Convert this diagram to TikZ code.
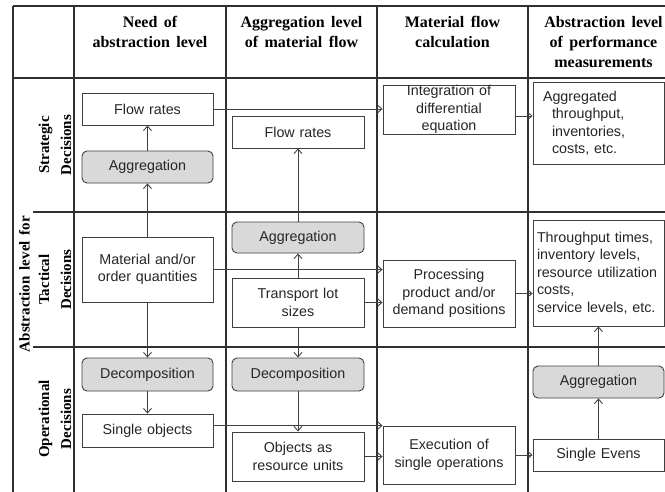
\documentclass[tikz,border=0pt]{standalone}
\usepackage{fontspec}
\setmainfont{Liberation Serif}
\newfontfamily\boxsans{Liberation Sans}
\newfontfamily\hdrserif[WordSpace=1.6]{Liberation Serif}
\usetikzlibrary{arrows.meta}
\definecolor{gridline}{HTML}{303030}
\definecolor{boxline}{HTML}{404040}
\definecolor{boxfill}{HTML}{D9D9D9}
\definecolor{boxtext}{HTML}{262626}

\begin{document}
\begin{tikzpicture}[x=1pt,y=-1pt,
  grid/.style={draw=gridline, line width=1.2pt},
  plain/.style={draw=boxline, line width=0.9pt, fill=white, inner xsep=3pt,
    inner ysep=0pt, align=center, text width=124pt, text=boxtext,
    font={\boxsans\fontsize{14.3}{17.5}\selectfont}},
  procbox/.style={plain, fill=boxfill, rounded corners=5pt},
  leftbox/.style={plain, align=left},
  hdr/.style={font={\hdrserif\bfseries\fontsize{16}{20}\selectfont}, align=center,
    anchor=north, inner sep=0pt, text=black},
  side/.style={font={\hdrserif\bfseries\fontsize{15}{22}\selectfont}, align=center,
    rotate=90, inner sep=0pt, text=black},
  arr/.style={draw=boxline, line width=0.9pt,
    -{Straight Barb[length=4.5pt,width=8pt]}}
]
\useasboundingbox (0,0) rectangle (665,491);
\fill[white] (0,0) rectangle (665,491);
\clip (0,0) rectangle (665,491);

% table grid
\draw[grid] (13,6) -- (680,6);
\draw[grid] (13,78) -- (680,78);
\draw[grid] (33,212) -- (680,212);
\draw[grid] (33,347) -- (680,347);
\foreach \gx in {13,74,226,377,528}
  \draw[grid] (\gx,6) -- (\gx,500);

% column headers
\node[hdr] (h1) at (150,16) {Need of\\abstraction level};
\node[hdr] (h2) at (301.5,16) {Aggregation level\\of material flow};
\node[hdr] (h3) at (452.5,16) {Material flow\\calculation};
\node[hdr] (h4) at (603.5,16) {Abstraction level\\of performance\\measurements};

% row labels
\node[side] (lab) at (24.5,284) {Abstraction level for};
\node[side] (s1) at (55,145) {Strategic\\Decisions};
\node[side] (s2) at (55,279.5) {Tactical\\Decisions};
\node[side] (s3) at (55,419) {Operational\\Decisions};

% column 1: need of abstraction level
\node[plain, minimum width=131pt, minimum height=32pt] (flowA) at (147.5,109) {Flow rates};
\node[procbox, minimum width=131pt, minimum height=32pt] (agg1) at (147.5,167) {Aggregation};
\node[plain, minimum width=131pt, minimum height=65pt] (mat) at (147.5,269.5) {Material and/or\\order quantities};
\node[procbox, minimum width=131pt, minimum height=33pt] (dec1) at (147.5,374.5) {Decomposition};
\node[plain, minimum width=131pt, minimum height=33pt] (single) at (147.5,430.5) {Single objects};

% column 2: aggregation level of material flow
\node[plain, minimum width=132pt, minimum height=32pt] (flowB) at (298,132) {Flow rates};
\node[procbox, minimum width=132pt, minimum height=31pt] (agg2) at (298,237.5) {Aggregation};
\node[plain, minimum width=132pt, minimum height=49pt] (trans) at (298,302.5) {Transport lot\\sizes};
\node[procbox, minimum width=132pt, minimum height=33pt] (dec2) at (298,374.5) {Decomposition};
\node[plain, minimum width=132pt, minimum height=49pt] (obj) at (298,456.5) {Objects as\\resource units};

% column 3: material flow calculation
\node[plain, minimum width=132pt, minimum height=49pt] (integ) at (449,109.5) {Integration of\\differential\\equation};
\node[plain, minimum width=132pt, minimum height=67pt] (proc) at (449,293.5) {Processing\\product and/or\\demand positions};
\node[plain, minimum width=132pt, minimum height=58pt] (exec) at (449,455) {Execution of\\single operations};

% column 4: performance measurements
\node[leftbox, inner xsep=10pt, text width=111pt, minimum width=131pt, minimum height=82pt] (aggtxt) at (598.5,123)
  {Aggregated\\\hspace*{9pt}throughput,\\\hspace*{9pt}inventories,\\\hspace*{9pt}costs, etc.};
\node[leftbox, inner xsep=4pt, text width=123pt, minimum width=131pt, minimum height=106pt] (tput) at (598.5,273)
  {Throughput times,\\inventory levels,\\resource utilization\\costs,\\service levels, etc.};
\node[procbox, minimum width=131pt, minimum height=32pt] (agg4) at (598.5,382) {Aggregation};
\node[plain, minimum width=131pt, minimum height=32pt] (evens) at (598.5,455) {Single Evens};

% vertical connectors
\draw[arr] (agg1) -- (flowA);
\draw[arr] (mat) -- (agg1);
\draw[arr] (mat) -- (dec1);
\draw[arr] (dec1) -- (single);
\draw[arr] (agg2) -- (flowB);
\draw[arr] (trans) -- (agg2);
\draw[arr] (trans) -- (dec2);
\draw[arr] (dec2) -- (obj);
\draw[arr] (evens) -- (agg4);
\draw[arr] (agg4) -- (tput);

% horizontal connectors
\coordinate (iout) at ([yshift=-6.5pt]integ.east);
\draw[arr] (flowA.east) -- (integ.west |- flowA.east);
\draw[arr] (iout) -- (aggtxt.west |- iout);
\draw[arr] (mat.east) -- (proc.west |- mat.east);
\draw[arr] (trans.east) -- (proc.west |- trans.east);
\draw[arr] (proc.east) -- (tput.west |- proc.east);
\draw[arr] (single.east |- exec.north west) -- (exec.north west);
\draw[arr] (obj.east) -- (exec.west |- obj.east);
\draw[arr] (exec.east) -- (evens.west |- exec.east);
\end{tikzpicture}
\end{document}
